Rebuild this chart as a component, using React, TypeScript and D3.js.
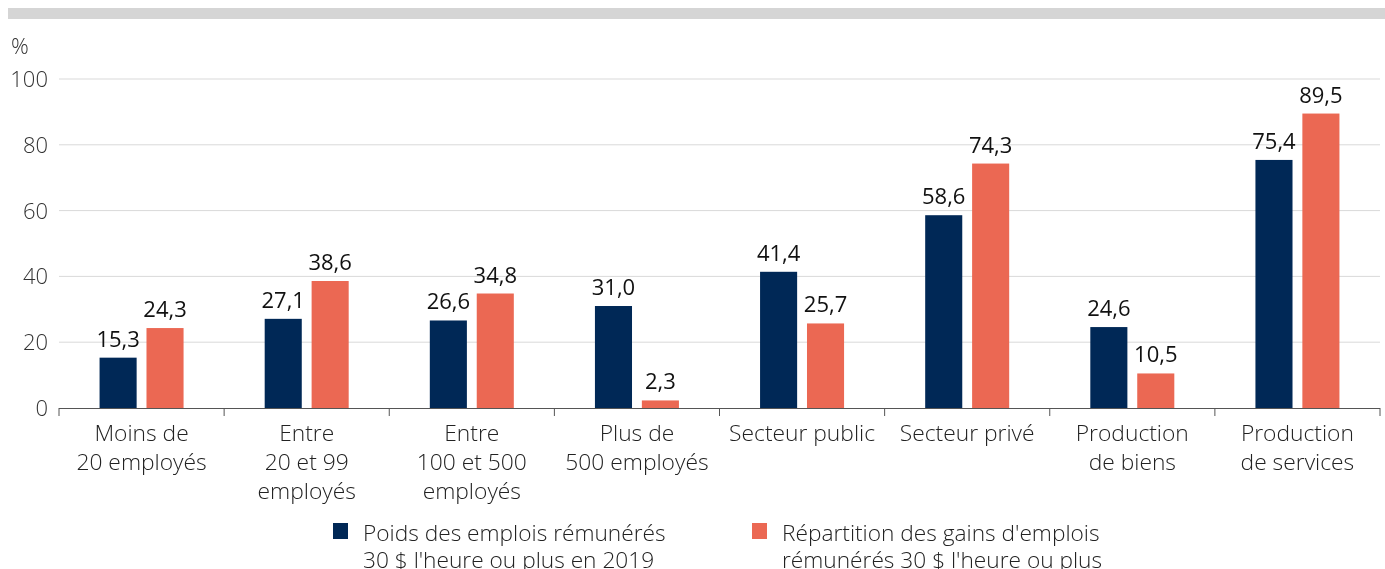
import React from 'react';
import * as d3 from 'd3';

const categories = [
  ['Moins de', '20 employés'],
  ['Entre', '20 et 99', 'employés'],
  ['Entre', '100 et 500', 'employés'],
  ['Plus de', '500 employés'],
  ['Secteur public'],
  ['Secteur privé'],
  ['Production', 'de biens'],
  ['Production', 'de services'],
];
const poids = [15.3, 27.1, 26.6, 31.0, 41.4, 58.6, 24.6, 75.4];
const repartition = [24.3, 38.6, 34.8, 2.3, 25.7, 74.3, 10.5, 89.5];
const seriesNames = [
  ['Poids des emplois rémunérés', "30 $ l'heure ou plus en 2019"],
  ["Répartition des gains d'emplois", "rémunérés 30 $ l'heure ou plus"],
];
const yTicks = [0, 20, 40, 60, 80, 100];

const colors = ['#002856', '#EB6853'];
const W = 1385;
const H = 569;
const left = 59;
const right = 1380;
const top = 79;
const bottom = 408;
const font = '"Open Sans", sans-serif';

export default function App() {
  const x = d3.scaleBand<number>().domain(d3.range(categories.length)).range([left, right]);
  const x1 = d3.scaleBand<number>().domain([0, 1]).range([0, 84]).paddingInner(0.21);
  const y = d3.scaleLinear().domain([0, 100]).range([bottom, top]);
  const fmt = (v: number) => v.toFixed(1).replace('.', ',');
  const series = [poids, repartition];

  return (
    <div style={{ position: 'fixed', left: 0, top: 0 }}>
      <svg width={W} height={H} style={{ display: 'block', fontFamily: font }}>
        <rect x={8} y={8} width={W - 8} height={11} fill="#d5d5d5" />
        <text x={11} y={54} fontSize={22} fill="#333" fontWeight={300}>%</text>
        {yTicks.map((t) => (
          <g key={t}>
            {t > 0 && <line x1={left} x2={right} y1={y(t)} y2={y(t)} stroke="#d9d9d9" strokeWidth={1} />}
            <text x={48} y={y(t) + 8} textAnchor="end" fontSize={22} fontWeight={300} fill="#333">{t}</text>
          </g>
        ))}
        {series.map((vals, s) =>
          vals.map((v, i) => {
            const bx = (x(i) as number) + (x.bandwidth() - 84) / 2 + (x1(s) as number);
            return (
              <g key={`${s}-${i}`}>
                <rect x={bx} y={y(v)} width={x1.bandwidth()} height={bottom - y(v)} fill={colors[s]} />
                <text x={bx + x1.bandwidth() / 2} y={y(v) - 11} textAnchor="middle" fontSize={22} fill="#111">{fmt(v)}</text>
              </g>
            );
          })
        )}
        <line x1={left} x2={right} y1={bottom + 0.5} y2={bottom + 0.5} stroke="#555" />
        {d3.range(categories.length + 1).map((i) => {
          const tx = left + i * x.bandwidth();
          return <line key={i} x1={tx} x2={tx} y1={bottom} y2={bottom + 8} stroke="#555" />;
        })}
        {categories.map((lines, i) => (
          <text key={i} textAnchor="middle" fontSize={22.8} fontWeight={300} fill="#222">
            {lines.map((l, k) => (
              <tspan key={k} x={(x(i) as number) + x.bandwidth() / 2} y={441 + k * 29}>{l}</tspan>
            ))}
          </text>
        ))}
        {seriesNames.map((lines, s) => {
          const lx = s === 0 ? 333 : 752;
          return (
            <g key={s}>
              <rect x={lx} y={523} width={15} height={16} fill={colors[s]} />
              <text fontSize={22.7} fontWeight={300} fill="#222">
                {lines.map((l, k) => (
                  <tspan key={k} x={lx + 30} y={541 + k * 27}>{l}</tspan>
                ))}
              </text>
            </g>
          );
        })}
      </svg>
    </div>
  );
}
